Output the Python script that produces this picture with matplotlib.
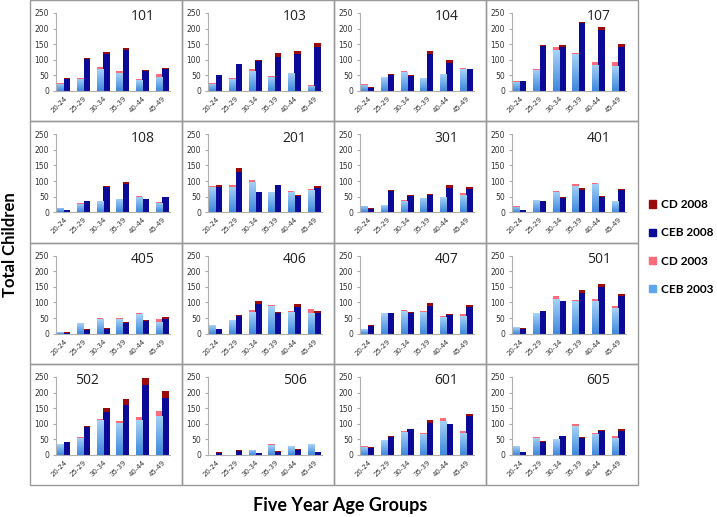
import matplotlib.pyplot as plt
from matplotlib.patches import Rectangle, Patch
import numpy as np

# data, one list per panel
age_groups = ['20-24', '25-29', '30-34', '35-39', '40-44', '45-49']
panel_names = ['101', '103', '104', '107',
               '108', '201', '301', '401',
               '405', '406', '407', '501',
               '502', '506', '601', '605']

ceb_2003 = {
    '101': [24, 39, 70, 57, 34, 46], '103': [24, 39, 65, 45, 58, 17],
    '104': [20, 44, 60, 41, 53, 69], '107': [30, 68, 130, 117, 84, 80],
    '108': [14, 28, 35, 43, 50, 31], '201': [82, 82, 97, 64, 65, 70],
    '301': [20, 22, 37, 45, 48, 56], '401': [18, 38, 65, 85, 90, 35],
    '405': [6, 33, 46, 48, 64, 38], '406': [27, 42, 69, 88, 69, 66],
    '407': [15, 65, 73, 69, 53, 57], '501': [20, 66, 112, 104, 103, 81],
    '502': [35, 55, 111, 103, 112, 126], '506': [1, 1, 17, 31, 28, 34],
    '601': [26, 47, 74, 68, 110, 71], '605': [28, 55, 50, 92, 68, 55],
}
cd_2003 = {
    '101': [3, 2, 7, 7, 4, 7], '103': [3, 2, 4, 2, 1, 2],
    '104': [1, 1, 5, 0, 1, 6], '107': [1, 3, 10, 5, 8, 12],
    '108': [1, 1, 1, 1, 1, 1], '201': [3, 5, 7, 1, 3, 4],
    '301': [1, 1, 3, 2, 1, 5], '401': [1, 1, 2, 6, 4, 1],
    '405': [0, 1, 3, 3, 2, 10], '406': [1, 1, 8, 3, 2, 13],
    '407': [1, 2, 2, 2, 2, 5], '501': [2, 1, 10, 5, 8, 9],
    '502': [1, 2, 5, 5, 8, 16], '506': [0, 0, 0, 3, 2, 2],
    '601': [2, 1, 3, 1, 8, 6], '605': [2, 2, 2, 6, 2, 5],
}
ceb_2008 = {
    '101': [38, 101, 117, 133, 63, 71], '103': [50, 85, 97, 108, 117, 140],
    '104': [10, 51, 49, 117, 91, 69], '107': [32, 143, 140, 218, 197, 140],
    '108': [6, 36, 81, 91, 42, 48], '201': [80, 130, 64, 86, 52, 77],
    '301': [12, 68, 53, 57, 78, 74], '401': [6, 36, 47, 72, 50, 70],
    '405': [3, 10, 16, 35, 41, 47], '406': [14, 56, 95, 67, 86, 67],
    '407': [24, 66, 67, 88, 61, 86], '501': [16, 72, 105, 130, 148, 119],
    '502': [40, 88, 139, 160, 225, 182], '506': [7, 12, 5, 10, 17, 8],
    '601': [23, 57, 83, 103, 98, 125], '605': [8, 42, 60, 55, 78, 78],
}
cd_2008 = {
    '101': [3, 6, 7, 6, 3, 4], '103': [2, 3, 2, 14, 10, 13],
    '104': [3, 3, 3, 12, 8, 1], '107': [1, 5, 8, 4, 8, 10],
    '108': [1, 1, 3, 6, 1, 2], '201': [7, 12, 2, 2, 5, 6],
    '301': [2, 2, 2, 2, 10, 8], '401': [1, 1, 1, 6, 1, 6],
    '405': [1, 5, 1, 1, 1, 6], '406': [1, 4, 10, 2, 8, 5],
    '407': [2, 1, 2, 9, 1, 6], '501': [1, 1, 1, 10, 12, 8],
    '502': [2, 6, 12, 20, 20, 22], '506': [1, 3, 0, 1, 2, 1],
    '601': [3, 3, 1, 8, 2, 5], '605': [0, 1, 1, 1, 3, 5],
}

c_ceb03 = '#5fa6ec'
c_cd03 = '#ff6b78'
c_ceb08 = '#0a0a96'
c_cd08 = '#9a0a0a'

W, H = 717, 517
fig = plt.figure(figsize=(W / 100, H / 100), dpi=100)

grid_left, grid_top = 30, 0
cell_w, cell_h = 152, 121.3
x = np.arange(len(age_groups))
bw = 0.33
# vertical gradient used to shade the light blue bars (light top, deeper bottom)
grad = np.linspace(0, 1, 64).reshape(-1, 1)
light_cmap = plt.matplotlib.colors.LinearSegmentedColormap.from_list(
    'lb', ['#3e88dc', '#a6d2f7'])

for i, name in enumerate(panel_names):
    r, c = divmod(i, 4)
    px = grid_left + c * cell_w
    py = grid_top + r * cell_h
    # panel frame
    fig.add_artist(Rectangle((px / W, 1 - (py + cell_h) / H), cell_w / W, cell_h / H,
                             transform=fig.transFigure, fill=False,
                             edgecolor='#9a9a9a', lw=1.0))
    ax = fig.add_axes([(px + 26) / W, 1 - (py + 91) / H, 114 / W, 78 / H])
    a03, b03 = ceb_2003[name], cd_2003[name]
    a08, b08 = ceb_2008[name], cd_2008[name]
    bars = ax.bar(x - bw / 2, a03, bw, color=c_ceb03)
    for b in bars:
        h = b.get_height()
        if h <= 0:
            continue
        im = ax.imshow(grad, cmap=light_cmap, aspect='auto', origin='lower',
                       extent=(b.get_x(), b.get_x() + b.get_width(), 0, h), zorder=1.5)
        im.set_clip_path(b)
    ax.bar(x - bw / 2, b03, bw, bottom=a03, color=c_cd03)
    ax.bar(x + bw / 2, a08, bw, color=c_ceb08)
    ax.bar(x + bw / 2, b08, bw, bottom=a08, color=c_cd08)
    ax.set_xlim(-0.4, 5.4)
    ax.set_ylim(0, 250)
    ax.set_yticks([0, 50, 100, 150, 200, 250])
    ax.set_xticks(x)
    ax.set_xticklabels(age_groups, rotation=45, ha='right', rotation_mode='anchor',
                       fontsize=5, color='#333333')
    ax.tick_params(axis='y', labelsize=5.5, labelcolor='#333333', length=2,
                   color='#aaaaaa', pad=3)
    ax.tick_params(axis='x', length=0, pad=3)
    for s in ['top', 'right']:
        ax.spines[s].set_visible(False)
    ax.spines['left'].set_color('#b0b0b0')
    ax.spines['bottom'].set_color('#b0b0b0')
    tx = 0.27 if name == '502' else 0.76
    ax.text(tx, 0.95, name, transform=ax.transAxes, ha='center', va='center',
            fontsize=10, color='#222222', family='Open Sans')

handles = [Patch(color=c_cd08, label='CD 2008'),
           Patch(color=c_ceb08, label='CEB 2008'),
           Patch(color=c_cd03, label='CD 2003'),
           Patch(color=c_ceb03, label='CEB 2003')]
fig.legend(handles=handles, loc='center left', bbox_to_anchor=(649 / W, 1 - 247 / H),
           frameon=False, borderpad=0, borderaxespad=0,
           handlelength=0.6, handleheight=0.6, handletextpad=0.4,
           labelspacing=1.45, prop={'family': 'Lato', 'weight': 'bold', 'size': 8.5})

fig.text(10 / W, 1 - 245 / H, 'Total Children', rotation=90, ha='center', va='center',
         fontsize=12, fontweight='bold', family='Lato')
fig.text(340 / W, 1 - 505 / H, 'Five Year Age Groups', ha='center', va='center',
         fontsize=13, fontweight='bold', family='Lato')

fig.savefig('out.png', dpi=100)
